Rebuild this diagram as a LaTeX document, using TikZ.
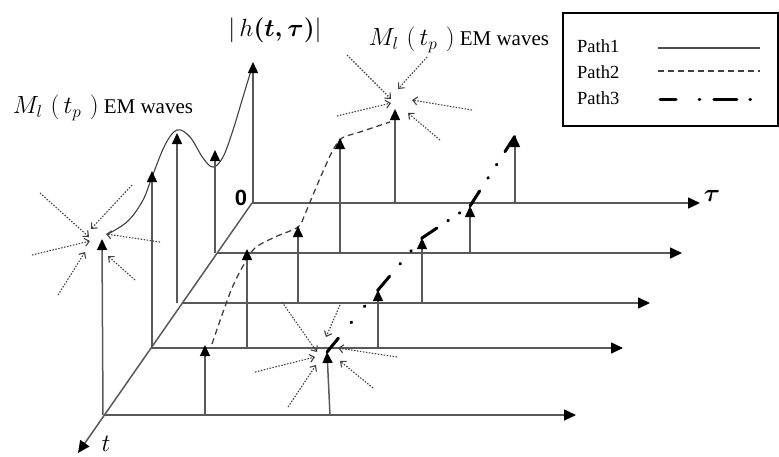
\documentclass[tikz,border=0pt]{standalone}
\usepackage{fontspec}
\setmainfont{Liberation Serif}
\setsansfont{Liberation Sans}
\usepackage{amsmath}
\usetikzlibrary{arrows.meta}
\usetikzlibrary{positioning}

\begin{document}
\begin{tikzpicture}[x=1pt, y=-1pt,
        axis/.style = {draw=black!65, line width=1.5pt, -{Triangle[length=12pt, width=11pt, color=black]}},
        spike/.style = {draw=black!65, line width=1.5pt, -{Triangle[length=11pt, width=10pt, color=black]}},
        wave/.style = {draw=black!75, line width=1.1pt, dash pattern=on 1.5pt off 1.5pt, -{Straight Barb[length=4.5pt, width=8pt]}},
        path1/.style = {draw=black!75, line width=1.1pt},
        path2/.style = {draw=black!75, line width=1.3pt, dash pattern=on 6pt off 4pt},
        path3/.style = {draw=black, line width=3pt, line cap=round, dash pattern=on 18pt off #1 on 0.8pt off #1 on 0.8pt off #1 on 18pt off 60pt},
        lab/.style = {font=\fontsize{21}{24}\selectfont, inner sep=0pt},
        leg/.style = {font=\fontsize{18.5}{22}\selectfont, inner sep=0pt}]
            \useasboundingbox (0,0) rectangle (779,456);
            \coordinate (o) at (252,203);
            \coordinate (tend) at (78,453);
            \coordinate (r2) at (217,253);
            \coordinate (r3) at (183,303);
            \coordinate (r4) at (151,348);
            \coordinate (r5) at (105,415);
            \coordinate (e1) at (700,203);
            \coordinate (e2) at (682,253);
            \coordinate (e3) at (650,303);
            \coordinate (e4) at (623,348);
            \coordinate (e5) at (576,415);
            \coordinate (b11) at (253,203); \coordinate (s11) at (253,62);
            \coordinate (b12) at (395,203); \coordinate (s12) at (395,109);
            \coordinate (b13) at (515,203); \coordinate (s13) at (515,136);
            \coordinate (b21) at (215,253); \coordinate (s21) at (215,150);
            \coordinate (b22) at (340,253); \coordinate (s22) at (340,138);
            \coordinate (b23) at (470,253); \coordinate (s23) at (470,206);
            \coordinate (b31) at (177,303); \coordinate (s31) at (177,133);
            \coordinate (b32) at (298,303); \coordinate (s32) at (298,226);
            \coordinate (b33) at (422,303); \coordinate (s33) at (422,238);
            \coordinate (b41) at (152,348); \coordinate (s41) at (152,171);
            \coordinate (b42) at (247,348); \coordinate (s42) at (247,249);
            \coordinate (b43) at (378,348); \coordinate (s43) at (378,290);
            \coordinate (b51) at (103,415); \coordinate (s51) at (102,239);
            \coordinate (b52) at (205,415); \coordinate (s52) at (205,345);
            \coordinate (b53) at (330,415); \coordinate (s53) at (327,352);
            \draw[axis] (r2) -- (e2);
            \draw[axis] (r3) -- (e3);
            \draw[axis] (r4) -- (e4);
            \draw[axis] (r5) -- (e5);
            \draw[axis] (o) -- (e1);
            \draw[axis] (o) -- (tend);
            \draw[path1] plot[smooth, tension=0.6] coordinates {(108,234) (128,221) (143,200) (152,177) (165,145) (177,130) (190,137) (203,158) (213,167) (223,157) (233,130) (243,97) (253,64)};
            \draw[path2] plot[smooth, tension=0.5] coordinates {(212,344) (222,315) (232,288) (243,266) (255,248) (275,237) (298,227) (305,214) (315,190) (325,167) (333,150) (342,138) (360,132) (390,122)};
            \draw[path3=20pt] (s53) -- (s43);
            \draw[path3=16pt] (s43) -- (s33);
            \draw[path3=13pt] (s33) -- (s23);
            \draw[path3=15pt] (s23) -- (s13);
            \draw[spike] (b11) -- (s11);
            \draw[spike] (b12) -- (s12);
            \draw[spike] (b13) -- (s13);
            \draw[spike] (b21) -- (s21);
            \draw[spike] (b22) -- (s22);
            \draw[spike] (b23) -- (s23);
            \draw[spike] (b31) -- (s31);
            \draw[spike] (b32) -- (s32);
            \draw[spike] (b33) -- (s33);
            \draw[spike] (b41) -- (s41);
            \draw[spike] (b42) -- (s42);
            \draw[spike] (b43) -- (s43);
            \draw[spike] (b51) -- (s51);
            \draw[spike] (b52) -- (s52);
            \draw[spike] (b53) -- (s53);
            \draw[wave] (40,193) -- (89,237);
            \draw[wave] (132,185) -- (91,229);
            \draw[wave] (32,255) -- (90,241);
            \draw[wave] (160,242) -- (106,234);
            \draw[wave] (58,295) -- (85,252);
            \draw[wave] (135,280) -- (108,256);
            \draw[wave] (347,55) -- (391,99);
            \draw[wave] (427,57) -- (398,89);
            \draw[wave] (337,116) -- (391,103);
            \draw[wave] (472,110) -- (412,100);
            \draw[wave] (440,140) -- (408,113);
            \draw[wave] (282,302) -- (317,352);
            \draw[wave] (340,305) -- (326,337);
            \draw[wave] (255,372) -- (315,357);
            \draw[wave] (397,357) -- (338,348);
            \draw[wave] (288,407) -- (316,365);
            \draw[wave] (373,388) -- (340,361);
            \node[lab] (em1) at (103,108) {{\fontsize{23}{26}\selectfont$M_{l}\,\,(\,t_{p}\,\,)$} EM waves};
            \node[lab] (em2) at (459,40) {{\fontsize{23}{26}\selectfont$M_{l}\,\,(\,t_{p}\,\,)$} EM waves};
            \node[font=\fontsize{26}{30}\selectfont, inner sep=0pt] (habs) at (275,30) {$|\,h\boldsymbol{(t,\tau)}|$};
            \node[font=\sffamily\bfseries\fontsize{22}{24}\selectfont, inner sep=0pt] (zero) at (241,198) {0};
            \node[font=\fontsize{36}{38}\selectfont, inner sep=0pt] (taulab) at (712,196) {$\boldsymbol{\tau}$};
            \node[font=\fontsize{24}{26}\selectfont, inner sep=0pt] (tlab) at (106,444) {$t$};
            \node[draw, line width=1.2pt, minimum width=215pt, minimum height=113pt, inner sep=0pt] (legend) at (670.5,69.5) {};
            \node[leg, anchor=west] (p1) at (577,46) {Path1};
            \node[leg] (p2) [below=26pt of p1.west, anchor=west] {Path2};
            \node[leg] (p3) [below=26pt of p2.west, anchor=west] {Path3};
            \coordinate (l1a) at (658,48); \coordinate (l1b) at (760,48);
            \coordinate (l2a) at (658,71); \coordinate (l2b) at (760,71);
            \coordinate (l3a) at (660,99); \coordinate (l3b) at (753,99);
            \draw[draw=black!70, line width=1.5pt] (l1a) -- (l1b);
            \draw[path2] (l2a) -- (l2b);
            \draw[draw=black, line width=3pt, line cap=round, dash pattern=on 16pt off 23pt on 0.8pt off 14pt on 23pt off 13pt on 0.8pt off 40pt] (l3a) -- (l3b);
        \end{tikzpicture}
\end{document}
